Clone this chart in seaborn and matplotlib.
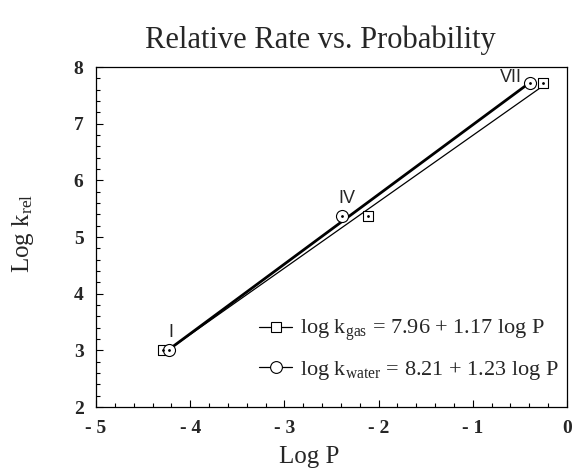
import numpy as np
import pandas as pd
import matplotlib
matplotlib.use('Agg')
import matplotlib.pyplot as plt
from matplotlib.lines import Line2D
import seaborn as sns

# points
labels = ['I', 'IV', 'VII']
gas_logp = [-4.29, -2.11, -0.26]
gas_logk = [3.00, 5.37, 7.72]
water_logp = [-4.23, -2.385, -0.39]
water_logk = [3.00, 5.37, 7.72]

# end points of the two fit lines
gas_fit_x = [-4.29, -0.26]
gas_fit_y = [2.94, 7.66]
water_fit_x = [-4.23, -0.39]
water_fit_y = [3.01, 7.73]

gas_label = r'log k$_{\mathrm{gas}}$ = 7.96 + 1.17 log P'
water_label = r'log k$_{\mathrm{water}}$ = 8.21 + 1.23 log P'

sns.set_style('ticks')
plt.rcParams['font.family'] = ['Liberation Serif', 'DejaVu Serif']
plt.rcParams['mathtext.fontset'] = 'custom'
plt.rcParams['mathtext.rm'] = 'Liberation Serif'
plt.rcParams['mathtext.it'] = 'Liberation Serif:italic'

fig = plt.figure(figsize=(5.74, 4.73), dpi=100)
ax = fig.add_axes([96/574, 1-407/473, (567-96)/574, (407-67)/473])

gas = pd.DataFrame({'x': gas_fit_x, 'y': gas_fit_y})
water = pd.DataFrame({'x': water_fit_x, 'y': water_fit_y})
sns.lineplot(data=water, x='x', y='y', color='black', linewidth=2.0, ax=ax)
sns.lineplot(data=gas, x='x', y='y', color='black', linewidth=0.9, ax=ax)

pts_g = pd.DataFrame({'x': gas_logp, 'y': gas_logk})
pts_w = pd.DataFrame({'x': water_logp, 'y': water_logk})
sns.scatterplot(data=pts_g, x='x', y='y', marker='s', s=55, facecolor='white',
                edgecolor='black', linewidth=0.8, ax=ax, zorder=3)
sns.scatterplot(data=pts_w, x='x', y='y', marker='o', s=75, facecolor='white',
                edgecolor='black', linewidth=0.8, ax=ax, zorder=4)
# the little dot in the middle of each marker
ax.scatter(gas_logp, gas_logk, s=1, color='black', zorder=5)
ax.scatter(water_logp, water_logk, s=1, color='black', zorder=5)

ax.text(water_logp[0] + 0.03, water_logk[0] + 0.16, labels[0], ha='center',
        va='bottom', fontsize=13, family='Liberation Sans')
ax.text(water_logp[1] + 0.05, water_logk[1] + 0.16, labels[1], ha='center',
        va='bottom', fontsize=13, family='Liberation Sans')
ax.text(water_logp[2] - 0.09, water_logk[2] + 0.1, labels[2], ha='right',
        va='center', fontsize=13, family='Liberation Sans')

ax.set_xlim(-5, 0)
ax.set_ylim(2, 8)
ax.set_xticks([-5, -4, -3, -2, -1, 0])
ax.set_xticklabels(['- 5', '- 4', '- 3', '- 2', '- 1', '0'])
ax.set_yticks([2, 3, 4, 5, 6, 7, 8])
ax.set_xticks(np.arange(-5, 0.01, 0.2), minor=True)
ax.set_yticks(np.arange(2, 8.01, 0.2), minor=True)
ax.tick_params(which='both', direction='in', color='black', width=0.8)
ax.tick_params(which='major', length=5, labelsize=14, pad=9)
ax.tick_params(which='minor', length=3)
for t in ax.get_xticklabels() + ax.get_yticklabels():
    t.set_fontweight('bold')
for s in ax.spines.values():
    s.set_visible(True)
    s.set_color('black')
    s.set_linewidth(0.9)
ax.set_xlabel('')
ax.set_ylabel('')

fig.text(320/574, 1-40/473, 'Relative Rate vs. Probability', ha='center', va='center', fontsize=22)
fig.text(309/574, 1-457/473, 'Log P', ha='center', va='center', fontsize=18)
fig.text(23/574, 1-233/473, r'Log k$_{\mathrm{rel}}$', ha='center', va='center', fontsize=18, rotation=90)

h_gas = Line2D([], [], color='black', linewidth=0.9, marker='s', markersize=7,
               markerfacecolor='white', markeredgecolor='black', markeredgewidth=0.8)
h_water = Line2D([], [], color='black', linewidth=0.9, marker='o', markersize=8.5,
                 markerfacecolor='white', markeredgecolor='black', markeredgewidth=0.8)
ax.legend([h_gas, h_water], [gas_label, water_label], loc='center left',
          bbox_to_anchor=(248/574, 1-350/473), bbox_transform=fig.transFigure,
          frameon=False, fontsize=16, handlelength=1.5, handletextpad=0.35,
          labelspacing=0.7, borderpad=0)

fig.savefig('out.png', dpi=100)
